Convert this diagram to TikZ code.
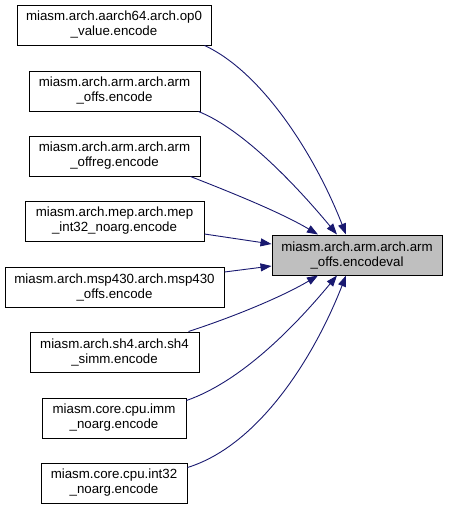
\documentclass[tikz,border=0pt]{standalone}
\usepackage{fontspec}
\setmainfont{Liberation Sans}
\usetikzlibrary{arrows.meta, calc}
\definecolor{edgeblue}{RGB}{25,25,112}
\definecolor{callgrey}{HTML}{BFBFBF}
\tikzset{
  fnbox/.style={draw=black, line width=1pt, fill=white, inner sep=0pt,
    minimum height=40pt, align=center,
    font=\fontsize{13.3}{15}\selectfont},
  callee/.style={fnbox, fill=callgrey},
  calledge/.style={draw=edgeblue, line width=0.9pt,
    -{Triangle[length=11pt, width=8pt]}}
}

\begin{document}
\begin{tikzpicture}[x=1pt, y=-1pt]
                    \useasboundingbox (0,0) rectangle (448,509);

                    %callers
                    \node[fnbox, minimum width=194pt] (op0val) at (114,25) {miasm.arch.aarch64.arch.op0\\\_value.encode};
                    \node[fnbox, minimum width=171pt] (armoffs) at (114.5,91) {miasm.arch.arm.arch.arm\\\_offs.encode};
                    \node[fnbox, minimum width=171pt] (armoffreg) at (114.5,156) {miasm.arch.arm.arch.arm\\\_offreg.encode};
                    \node[fnbox, minimum width=179pt] (mepint) at (114.5,221) {miasm.arch.mep.arch.mep\\\_int32\_noarg.encode};
                    \node[fnbox, minimum width=219pt] (mspoffs) at (114.5,287) {miasm.arch.msp430.arch.msp430\\\_offs.encode};
                    \node[fnbox, minimum width=169pt] (shsimm) at (114.5,352) {miasm.arch.sh4.arch.sh4\\\_simm.encode};
                    \node[fnbox, minimum width=144pt] (immnoarg) at (114,418) {miasm.core.cpu.imm\\\_noarg.encode};
                    \node[fnbox, minimum width=146pt] (intnoarg) at (114,483) {miasm.core.cpu.int32\\\_noarg.encode};

                    %callee
                    \node[callee, minimum width=170pt] (encodeval) at (357,255) {miasm.arch.arm.arch.arm\\\_offs.encodeval};

                    %edges from above
                    \draw[calledge] ([xshift=-7pt]op0val.south east) .. controls (262,72) and (315,155) .. ([xshift=-11pt]encodeval.north);
                    \draw[calledge] ([xshift=-2pt]armoffs.south east) .. controls (245,130) and (300,190) .. ([xshift=-20pt]encodeval.north);
                    \draw[calledge] ([xshift=-10pt]armoffreg.south east) .. controls (230,192) and (280,212) .. ([xshift=-39pt]encodeval.north);
                    \draw[calledge] ([yshift=-13pt]mepint.east) -- ([yshift=11pt]encodeval.west);

                    %edges from below
                    \draw[calledge] ([yshift=15pt]mspoffs.east) -- ([yshift=-11pt]encodeval.west);
                    \draw[calledge] ([xshift=-11pt]shsimm.north east) .. controls (230,318) and (280,298) .. ([xshift=-39pt]encodeval.south);
                    \draw[calledge] ([yshift=-3pt]immnoarg.north east) .. controls (245,380) and (300,320) .. ([xshift=-20pt]encodeval.south);
                    \draw[calledge] ([yshift=-5pt]intnoarg.north east) .. controls (260,445) and (315,355) .. ([xshift=-11pt]encodeval.south);

\end{tikzpicture}
\end{document}
